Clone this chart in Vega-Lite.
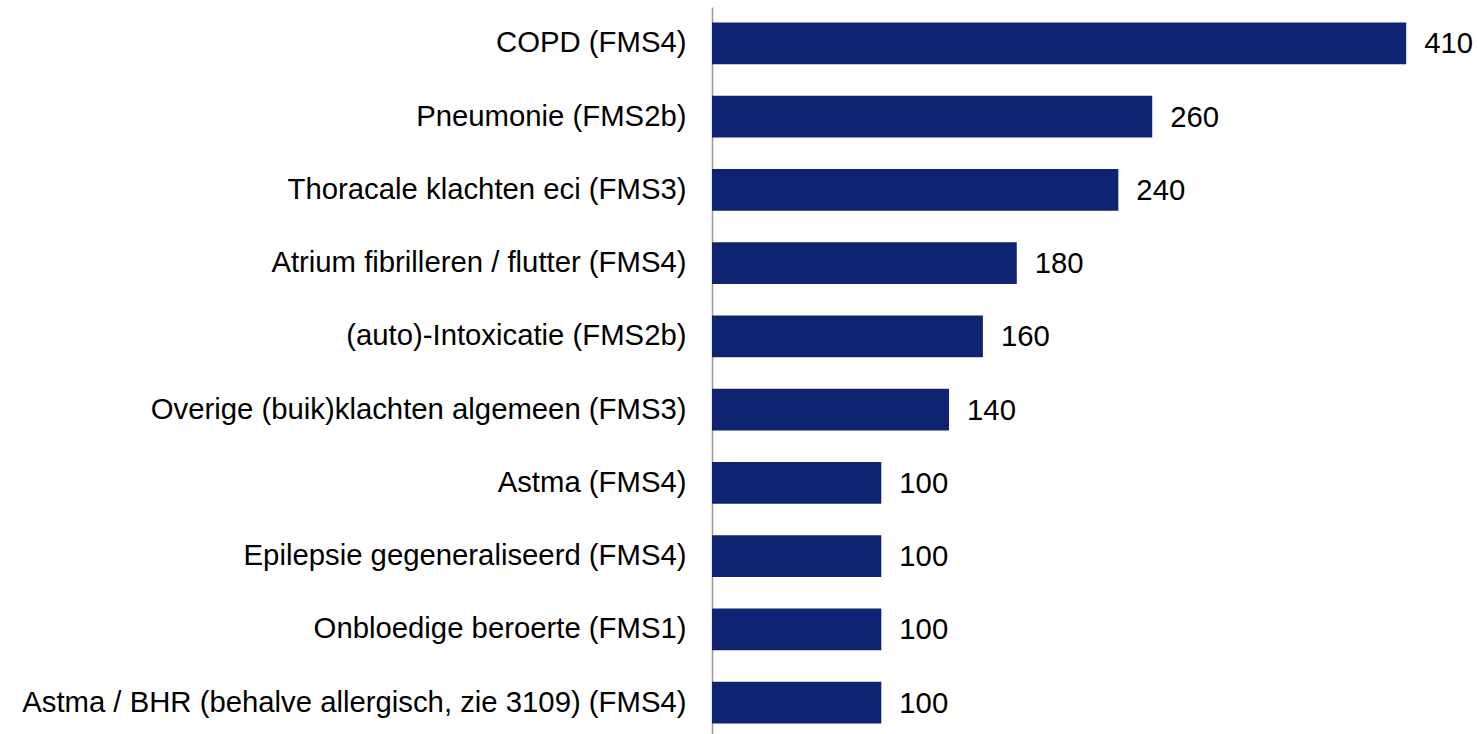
{
  "$schema": "https://vega.github.io/schema/vega-lite/v6.json",
  "autosize": "none",
  "width": 767,
  "height": 732,
  "padding": {"left": 712, "top": 7, "right": 0, "bottom": 0},
  "background": "white",
  "config": {"view": {"stroke": null}, "font": "Liberation Sans"},
  "data": {"values": [
    {"category": "COPD (FMS4)", "value": 410},
    {"category": "Pneumonie (FMS2b)", "value": 260},
    {"category": "Thoracale klachten eci (FMS3)", "value": 240},
    {"category": "Atrium fibrilleren / flutter (FMS4)", "value": 180},
    {"category": "(auto)-Intoxicatie (FMS2b)", "value": 160},
    {"category": "Overige (buik)klachten algemeen (FMS3)", "value": 140},
    {"category": "Astma (FMS4)", "value": 100},
    {"category": "Epilepsie gegeneraliseerd (FMS4)", "value": 100},
    {"category": "Onbloedige beroerte (FMS1)", "value": 100},
    {"category": "Astma / BHR (behalve allergisch, zie 3109) (FMS4)", "value": 100}
  ]},
  "encoding": {
    "y": {
      "field": "category", "type": "nominal", "sort": null,
      "scale": {"paddingInner": 0.43, "paddingOuter": 0.21},
      "axis": {
        "title": null, "ticks": false, "grid": false,
        "domain": true, "domainColor": "#999999", "domainWidth": 1.5,
        "labelFont": "Liberation Sans", "labelFontSize": 29.3, "labelColor": "#000000",
        "labelPadding": 26, "labelLimit": 0
      }
    },
    "x": {
      "field": "value", "type": "quantitative",
      "scale": {"domain": [0, 453], "nice": false, "zero": true},
      "axis": null
    }
  },
  "layer": [
    {"mark": {"type": "bar", "color": "#0E2372"}},
    {
      "mark": {"type": "text", "align": "left", "baseline": "middle", "dx": 18, "dy": 1, "font": "Liberation Sans", "fontSize": 29.3, "color": "#000000"},
      "encoding": {"text": {"field": "value", "type": "quantitative"}}
    }
  ]
}
